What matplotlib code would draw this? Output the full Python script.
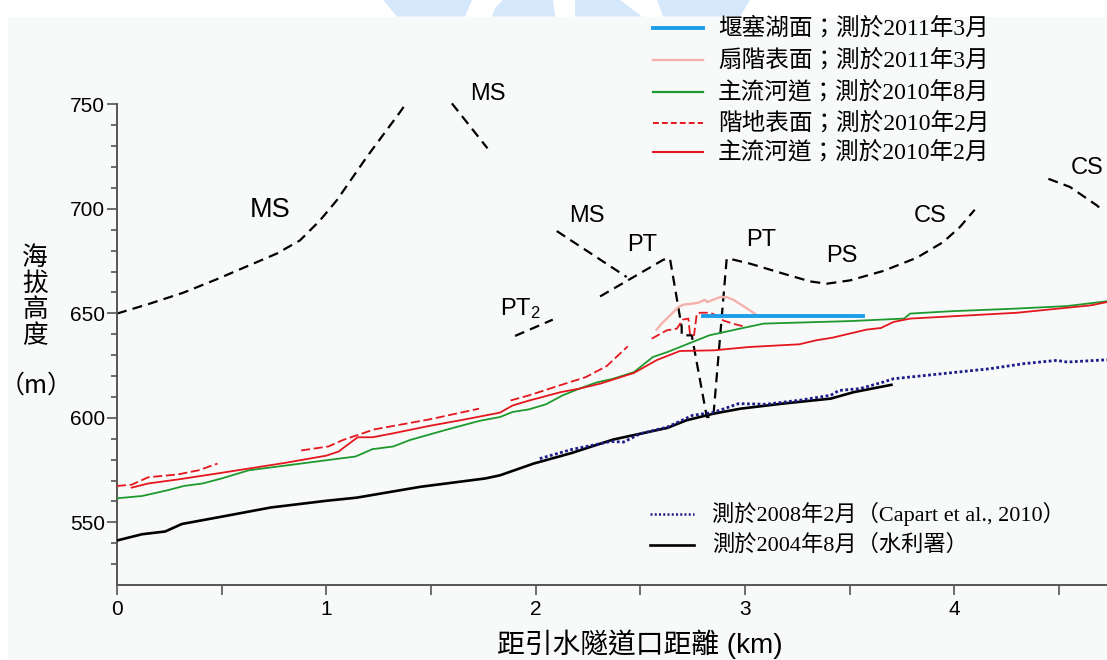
import matplotlib
matplotlib.use("Agg")
import matplotlib.pyplot as plt
from matplotlib.lines import Line2D
from matplotlib.patches import Rectangle, Polygon

plt.rcParams['font.family'] = ['Liberation Sans', 'Noto Sans CJK TC', 'DejaVu Sans']
plt.rcParams['mathtext.default'] = 'regular'

# ---------------- data ----------------
# 2004/8 survey (水利署)
wra2004_x = [0, 0.12, 0.23, 0.31, 0.50, 0.735, 1.0, 1.145, 1.45, 1.76, 1.83, 1.99, 2.17,
             2.37, 2.63, 2.72, 2.85, 2.98, 3.18, 3.41, 3.52, 3.70]
wra2004_y = [541.3, 544.3, 545.6, 549.2, 552.7, 557.1, 560.3, 561.8, 567.0, 571.0, 572.5,
             578.1, 583.1, 589.6, 595.2, 598.8, 602.0, 604.4, 606.8, 609.2, 612.3, 615.8]

# 2008/2 survey (Capart et al., 2010)
capart2008_x = [2.02, 2.17, 2.36, 2.42, 2.50, 2.63, 2.75, 2.85, 2.97, 3.10, 3.26, 3.41, 3.45,
                3.55, 3.66, 3.71, 4.17, 4.33, 4.49, 4.54, 4.73]
capart2008_y = [580.5, 584.8, 588.7, 588.4, 592.4, 595.6, 601.2, 602.6, 606.8, 606.5, 608.4,
                610.8, 613.1, 614.0, 617.1, 618.7, 623.5, 625.9, 627.5, 626.7, 627.8]

# main channel 2010/8
ch201008_x = [0, 0.12, 0.24, 0.32, 0.41, 0.50, 0.63, 0.80, 1.0, 1.14, 1.22, 1.32, 1.40, 1.57,
              1.73, 1.83, 1.89, 1.97, 2.05, 2.13, 2.21, 2.29, 2.37, 2.47, 2.56, 2.63, 2.75,
              2.83, 2.94, 3.01, 3.09, 3.50, 3.76, 3.79, 3.98, 4.30, 4.54, 4.73]
ch201008_y = [561.5, 562.6, 565.3, 567.4, 568.6, 571.0, 574.9, 577.1, 579.7, 581.5, 585.0,
              586.3, 589.4, 594.2, 598.5, 600.4, 602.8, 604.1, 606.5, 610.8, 614.0, 616.9,
              618.7, 621.9, 629.1, 631.5, 636.3, 639.5, 641.9, 643.4, 645.1, 646.3, 647.5,
              649.9, 651.0, 652.3, 653.5, 655.8]

# main channel 2010/2
ch201002_x = [0.07, 0.15, 0.29, 0.50, 0.80, 1.0, 1.06, 1.08, 1.15, 1.22, 1.32, 1.49, 1.66,
              1.83, 1.89, 1.97, 2.12, 2.21, 2.31, 2.47, 2.58, 2.69, 2.85, 3.02, 3.26, 3.34,
              3.42, 3.58, 3.65, 3.71, 3.79, 4.30, 4.65, 4.73]
ch201002_y = [566.6, 568.6, 570.5, 573.7, 578.4, 581.9, 583.9, 585.5, 590.7, 590.7, 592.6,
              596.1, 599.2, 602.5, 605.9, 608.3, 612.3, 614.0, 616.4, 621.5, 627.7, 632.0,
              632.3, 633.9, 635.2, 637.1, 638.4, 642.2, 643.0, 645.9, 647.5, 650.3, 653.8,
              655.4]

# terrace surfaces 2010/2 (separate pieces)
terrace_x = [
    [0, 0.07, 0.15, 0.29, 0.39, 0.48],
    [0.88, 1.01, 1.08, 1.23, 1.49, 1.73],
    [1.88, 1.97, 2.13, 2.24, 2.34, 2.44],
    [2.555, 2.627, 2.675, 2.703, 2.730, 2.738, 2.757, 2.770, 2.786, 2.833, 2.865, 2.897,
     2.945, 2.993],
]
terrace_y = [
    [567.4, 568.0, 571.6, 572.9, 574.9, 578.1],
    [584.4, 586.3, 589.4, 594.5, 599.2, 604.4],
    [608.3, 610.8, 616.0, 619.5, 624.8, 634.2],
    [637.9, 641.9, 642.7, 647.0, 647.5, 639.5, 639.5, 649.8, 650.3, 650.3, 649.0, 646.6,
     645.0, 643.8],
]

# fan terrace surface 2011/3
fan_x = [2.578, 2.602, 2.642, 2.682, 2.706, 2.746, 2.777, 2.809, 2.820, 2.841, 2.881, 2.913,
         2.945, 3.000, 3.048]
fan_y = [642.2, 645.1, 649.0, 653.0, 654.2, 654.6, 655.1, 656.5, 655.4, 656.2, 657.8, 657.8,
         656.5, 653.0, 649.8]

# landslide-dammed lake surface 2011/3
lake_x = [2.80, 3.566]
lake_y = [648.8, 648.8]

# geomorphic boundary lines (dashed)
bound_x = [
    [0, 0.155, 0.317, 0.476, 0.651, 0.763, 0.874, 0.970, 1.050, 1.193, 1.352, 1.385],
    [1.60, 1.77],
    [2.101, 2.435],
    [1.902, 2.082],
    [2.308, 2.611, 2.642, 2.698, 2.698, 2.746, 2.818, 2.849, 2.913, 2.945, 3.024, 3.184,
     3.311, 3.391, 3.503, 3.661, 3.821, 3.947, 4.027, 4.098],
    [4.45, 4.553, 4.681, 4.70],
]
bound_y = [
    [649.9, 654.6, 659.9, 666.3, 673.8, 678.6, 684.9, 694.5, 704.1, 724.8, 746.3, 751.0],
    [750.5, 729.0],
    [689.4, 667.4],
    [639.2, 647.0],
    [658.1, 675.7, 676.2, 643.4, 639.5, 639.5, 600.4, 600.4, 676.2, 675.7, 673.8, 669.0,
     665.3, 664.2, 665.8, 670.3, 676.6, 684.1, 691.3, 699.6],
    [714.4, 710.5, 701.7, 700.0],
]

# unit labels
unit_text = ['MS', 'MS', 'MS', 'PT', 'PT$_2$', 'PT', 'PS', 'CS', 'CS']
unit_x = [0.731, 1.773, 2.246, 2.508, 1.925, 3.077, 3.464, 3.884, 4.634]
unit_y = [699.3, 754.8, 696.4, 682.5, 652.4, 684.9, 677.3, 696.4, 719.4]
unit_size = [19.5, 17, 17, 17, 17, 17, 17, 17, 17]

legend_top = ['堰塞湖面；測於2011年3月', '扇階表面；測於2011年3月', '主流河道；測於2010年8月',
              '階地表面；測於2010年2月', '主流河道；測於2010年2月']
legend_bottom = ['測於2008年2月（Capart et al., 2010）', '測於2004年8月（水利署）']

yticks = [550, 600, 650, 700, 750]
xticks = [0, 1, 2, 3, 4]

# ---------------- figure ----------------
W, H = 1107, 660
fig = plt.figure(figsize=(W / 100, H / 100), dpi=100, facecolor='white')

# light grey page panel and faint watermark at the top
fig.add_artist(Rectangle((8 / W, 0), 1 - 8 / W, 1 - 16.5 / H, transform=fig.transFigure,
                         facecolor='#f8f9f9', edgecolor='none', zorder=-10))
wm = [[(383, 0), (472, 0), (465, 16.5), (397, 16.5)],
      [(503, 0), (553, 0), (555, 16.5), (492, 16.5), (495, 8)],
      [(575, 0), (620, 0), (642, 16.5), (575, 16.5)],
      [(657, 0), (750, 0), (740, 16.5), (663, 16.5)]]
for poly in wm:
    fig.add_artist(Polygon([(px / W, 1 - py / H) for px, py in poly], closed=True,
                           transform=fig.transFigure, facecolor='#d5e7fb',
                           edgecolor='none', zorder=-9))

ax = fig.add_axes([117 / W, 75 / H, 990 / W, 565 / H])
ax.set_facecolor('none')
ax.set_xlim(0, 4.73)
ax.set_ylim(520, 790.4)

c_blue = '#1e9de8'
c_pink = '#f3b2ac'
c_green = '#1d9a2d'
c_red = '#e3171d'
c_navy = '#1c1c8a'

dash_black = dict(color='black', lw=1.6, dashes=(4.5, 2.8))
for bx, by in zip(bound_x, bound_y):
    ax.plot(bx, by, **dash_black, zorder=2)

ax.plot(wra2004_x, wra2004_y, color='black', lw=1.9, zorder=3)
ax.plot(capart2008_x, capart2008_y, color=c_navy, lw=2.0, linestyle=(0, (1, 0.9)), zorder=4)
ax.plot(ch201008_x, ch201008_y, color=c_green, lw=1.3, zorder=3)
ax.plot(ch201002_x, ch201002_y, color=c_red, lw=1.3, zorder=3)
for tx, ty in zip(terrace_x, terrace_y):
    ax.plot(tx, ty, color=c_red, lw=1.3, dashes=(5, 2), zorder=3)
ax.plot(fan_x, fan_y, color=c_pink, lw=1.7, zorder=2.5)
ax.plot(lake_x, lake_y, color=c_blue, lw=2.8, zorder=4)

for t, x, y, s in zip(unit_text, unit_x, unit_y, unit_size):
    ax.text(x, y, t, fontsize=s, ha='center', va='center', family=['Liberation Sans'],
            clip_on=False)

# axes styling
for sp in ['top', 'right']:
    ax.spines[sp].set_visible(False)
ax.spines['left'].set_bounds(520, 750)
for sp in ['left', 'bottom']:
    ax.spines[sp].set_color('#555555')
    ax.spines[sp].set_linewidth(1.4)
ax.set_yticks(yticks)
ax.set_yticks(list(range(530, 750, 10)), minor=True)
ax.set_xticks(xticks)
ax.set_xticks([0.5, 1.5, 2.5, 3.5, 4.5], minor=True)
ax.tick_params(axis='y', which='major', length=7, width=1.2, color='#555555', pad=1.5,
               labelsize=15)
ax.tick_params(axis='y', which='minor', length=4.3, width=1.2, color='#555555')
ax.tick_params(axis='x', which='both', length=7, width=1.2, color='#555555', pad=4,
               labelsize=15)

ax.set_xlabel('距引水隧道口距離 (km)', fontsize=20,
              family=['Liberation Sans', 'Noto Sans CJK TC'])
ax.xaxis.set_label_coords((640 - 117) / 990, (585 - 629) / 565)

fig.text(35 / W, 1 - 297 / H, '海\n拔\n高\n度', fontsize=18.5, ha='center', va='center',
         linespacing=1.0, family=['Noto Sans CJK TC'])
fig.text(36 / W, 1 - 386 / H, '（m）', fontsize=18, ha='center', va='center',
         family=['Noto Sans CJK TC'])

# legends (drawn manually to follow the reference layout)
leg_font = ['Liberation Serif', 'Noto Sans CJK TC']
top_styles = [dict(color=c_blue, lw=2.8), dict(color=c_pink, lw=1.7),
              dict(color=c_green, lw=1.6), dict(color=c_red, lw=1.4, dashes=(3, 1.6)),
              dict(color=c_red, lw=1.5)]
top_rows = [28, 60, 92, 123, 152]
for lab, st, ry in zip(legend_top, top_styles, top_rows):
    fig.add_artist(Line2D([653 / W, 703 / W], [1 - ry / H, 1 - ry / H],
                          transform=fig.transFigure, **st))
    fig.text(718 / W, 1 - ry / H, lab, fontsize=17, ha='left', va='center', family=leg_font)

bot_styles = [dict(color=c_navy, lw=1.8, linestyle=(0, (0.8, 0.9))),
              dict(color='black', lw=1.9)]
bot_rows = [514, 545]
for lab, st, ry in zip(legend_bottom, bot_styles, bot_rows):
    fig.add_artist(Line2D([650 / W, 694 / W], [1 - ry / H, 1 - ry / H],
                          transform=fig.transFigure, **st))
    fig.text(712 / W, 1 - ry / H, lab, fontsize=16, ha='left', va='center', family=leg_font)

fig.savefig('out.png', dpi=100, facecolor='white')
